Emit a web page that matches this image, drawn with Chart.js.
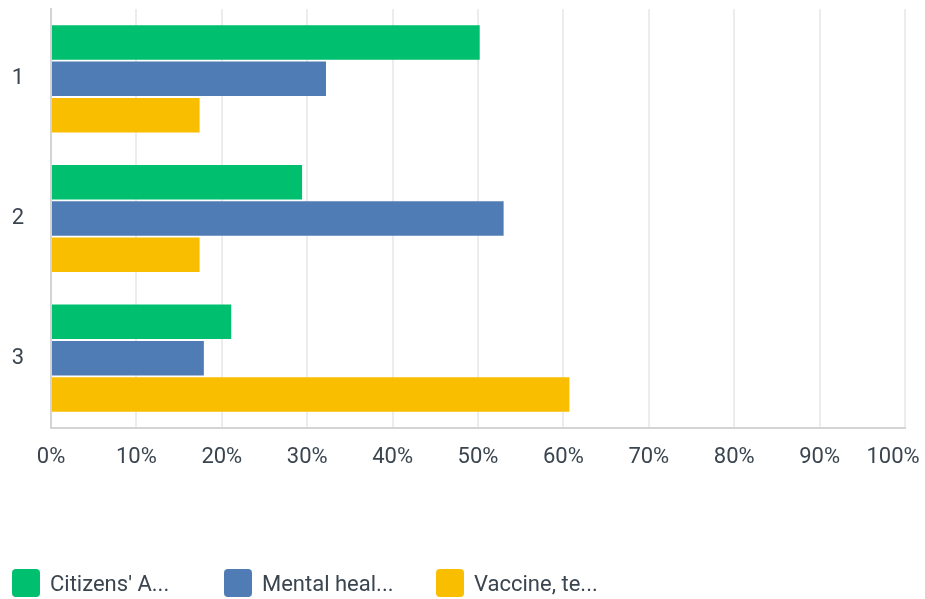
<!DOCTYPE html>
<html>
<head>
<meta charset="utf-8">
<script src="https://cdn.jsdelivr.net/npm/chart.js@4"></script>
<style>
  html, body { margin: 0; padding: 0; background: #fff; }
  #wrap { position: relative; width: 925px; height: 599px; }
  #legend { position: absolute; left: 12px; top: 569px; display: flex; font-family: Roboto, sans-serif; font-weight: 400; font-size: 22px; color: #3a4550; }
  .item { display: flex; align-items: center; width: 212px; height: 28px; }
  .box { width: 28px; height: 28px; border-radius: 4px; margin-right: 10px; flex: none; }
</style>
</head>
<body>
<div id="wrap">
  <canvas id="chart" width="925" height="599"></canvas>
  <div id="legend"></div>
</div>
<script>
const categories = ["1", "2", "3"];
const seriesNames = ["Citizens' A...", "Mental heal...", "Vaccine, te..."];
const citizens = [50.2, 29.4, 21.1];
const mental = [32.2, 53.0, 17.9];
const vaccine = [17.4, 17.4, 60.7];
const colors = ["#00bf6f", "#507cb6", "#f9be00"];
const tickLabels = ["0%", "10%", "20%", "30%", "40%", "50%", "60%", "70%", "80%", "90%", "100%"];

const seriesValues = [citizens, mental, vaccine];

// html legend
const legend = document.getElementById("legend");
seriesNames.forEach(function (name, i) {
    let item = document.createElement("div");
    item.className = "item";
    item.innerHTML = '<div class="box" style="background:' + colors[i] + '"></div><span>' + name + '</span>';
    legend.appendChild(item);
});

// shift the last x label left so it fits like in the original
const lastLabelFix = {
    id: "lastLabelFix",
    beforeDraw(chart) {
        let items = chart.scales.x.getLabelItems();
        let last = items[items.length - 1];
        if (last && !last._shifted) {
            last.options.translation[0] -= 12;
            last._shifted = true;
        }
    }
};

const tickFont = { family: "Roboto", size: 22, weight: "400" };

function drawChart() {
    "use strict";
    let ctx = document.getElementById("chart");
    new Chart(ctx, {
        type: "bar",
        data: {
            labels: categories,
            datasets: seriesValues.map(function (vals, i) {
                return {
                    label: seriesNames[i],
                    data: vals,
                    backgroundColor: colors[i],
                    borderWidth: 0,
                    categoryPercentage: 0.78,
                    barPercentage: 0.95
                };
            })
        },
        options: {
            indexAxis: "y",
            responsive: false,
            animation: false,
            layout: { padding: { top: 9, left: 12, right: 20, bottom: 129 } },
            plugins: { legend: { display: false }, tooltip: { enabled: false } },
            scales: {
                x: {
                    min: 0,
                    max: 100,
                    afterFit: function (s) {
                        s.height = 42;
                        s.paddingLeft = 0;
                        s.paddingRight = 0;
                    },
                    ticks: {
                        stepSize: 10,
                        padding: 16,
                        maxRotation: 0,
                        color: "#3a4550",
                        font: tickFont,
                        callback: function (v, i) { return tickLabels[i]; }
                    },
                    grid: { color: "#ececec", lineWidth: 2, drawTicks: false },
                    border: { color: "#d4d4d4", width: 2 }
                },
                y: {
                    afterFit: function (s) {
                        s.width = 39;
                        s.paddingTop = 0;
                        s.paddingBottom = 0;
                    },
                    ticks: {
                        padding: 27,
                        color: "#3a4550",
                        font: tickFont
                    },
                    grid: { display: false, drawTicks: false },
                    border: { color: "#d4d4d4", width: 2 }
                }
            }
        },
        plugins: [lastLabelFix]
    });
}
drawChart();
</script>
</body>
</html>
